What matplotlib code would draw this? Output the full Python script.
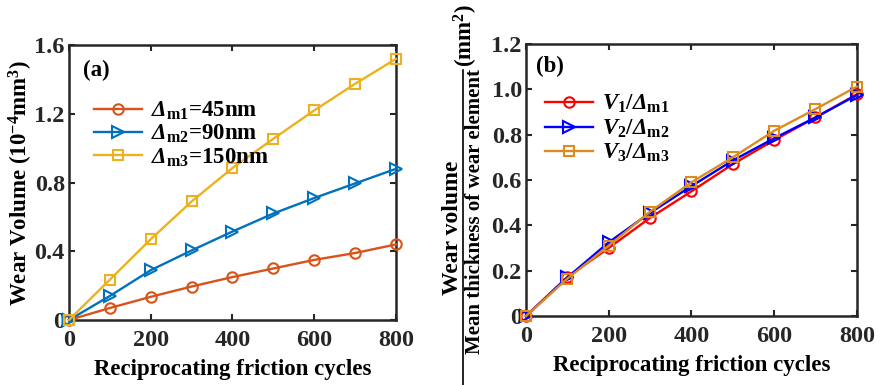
import numpy as np
import matplotlib
matplotlib.use("Agg")
import matplotlib.pyplot as plt
from matplotlib.lines import Line2D

plt.rcParams['font.family'] = ['Liberation Serif', 'DejaVu Serif']
plt.rcParams['font.weight'] = 'bold'
plt.rcParams['mathtext.fontset'] = 'custom'
plt.rcParams['mathtext.rm'] = 'Liberation Serif:bold'
plt.rcParams['mathtext.it'] = 'Liberation Serif:italic:bold'
plt.rcParams['mathtext.bf'] = 'Liberation Serif:bold'
plt.rcParams['mathtext.cal'] = 'Liberation Serif:italic:bold'

cycles = [0, 100, 200, 300, 400, 500, 600, 700, 800]

# panel (a): wear volume, 1e-4 mm^3
vol_m1 = [0, 0.07, 0.135, 0.195, 0.25, 0.30, 0.35, 0.39, 0.44]
vol_m2 = [0, 0.14, 0.29, 0.405, 0.515, 0.62, 0.71, 0.795, 0.88]
vol_m3 = [0, 0.235, 0.47, 0.69, 0.885, 1.055, 1.22, 1.375, 1.52]
labels_a = [r'$\mathcal{Δ}_{\mathbf{m1}}$=45nm',
            r'$\mathcal{Δ}_{\mathbf{m2}}$=90nm',
            r'$\mathcal{Δ}_{\mathbf{m3}}$=150nm']

# panel (b): wear volume / mean thickness
ratio_1 = [0, 0.172, 0.30, 0.433, 0.55, 0.67, 0.776, 0.876, 0.978]
ratio_2 = [0, 0.17, 0.325, 0.455, 0.573, 0.686, 0.784, 0.876, 0.975]
ratio_3 = [0, 0.165, 0.31, 0.46, 0.59, 0.70, 0.817, 0.913, 1.012]
labels_b = [r'$\mathit{V}_{\mathbf{1}}/\mathcal{Δ}_{\mathbf{m1}}$',
            r'$\mathit{V}_{\mathbf{2}}/\mathcal{Δ}_{\mathbf{m2}}$',
            r'$\mathit{V}_{\mathbf{3}}/\mathcal{Δ}_{\mathbf{m3}}$']

fig = plt.figure(figsize=(8.8, 3.85), dpi=100)
ax1 = fig.add_axes([0.0784, 0.1688, 0.3716, 0.714])
ax2 = fig.add_axes([0.5977, 0.1792, 0.376, 0.7065])

def style(ax):
    for s in ax.spines.values():
        s.set_linewidth(1.8)
        s.set_color('#262626')
    ax.tick_params(direction='in', length=4, width=1.5, top=True, right=True,
                   labelsize=17.5, colors='#262626')
    ax.tick_params(axis='x', pad=7)
    ax.tick_params(axis='y', pad=3)
    for t in ax.get_xticklabels() + ax.get_yticklabels():
        t.set_fontweight('bold')
        t.set_color('#262626')

cols_a = ['#D95319', '#0072BD', '#EDB120']
mk = ['o', '>', 's']
ms = [7.5, 8, 6.5]
for y, c, m, s, lab in zip([vol_m1, vol_m2, vol_m3], cols_a, mk, ms, labels_a):
    ax1.plot(cycles, y, color=c, lw=1.7, marker=m, ms=s, mfc='none', mew=1.5,
             label=lab, clip_on=False, zorder=3)
ax1.set_xlim(0, 800)
ax1.set_ylim(0, 1.6)
ax1.set_xticks([0, 200, 400, 600, 800])
ax1.set_yticks([0, 0.4, 0.8, 1.2, 1.6])
ax1.set_yticklabels(['0', '0.4', '0.8', '1.2', '1.6'])
style(ax1)
ax1.set_xlabel('Reciprocating friction cycles', fontsize=16.5, fontweight='bold', labelpad=6)
ax1.set_ylabel(r'Wear Volume (10$^{\mathbf{-4}}$mm$^{\mathbf{3}}$)', fontsize=16.5,
               fontweight='bold', labelpad=-0.5)
ax1.text(0.043, 0.909, '(a)', transform=ax1.transAxes, fontsize=16.5, fontweight='bold',
         va='center')
ax1.legend(loc='upper left', bbox_to_anchor=(0.076, 0.802), frameon=False, fontsize=16.5,
           handlelength=2.1, handletextpad=0.4, labelspacing=0.05, borderaxespad=0,
           borderpad=0)

cols_b = ['#FF0000', '#0000FF', '#DC8C1E']
for y, c, m, s, lab in zip([ratio_1, ratio_2, ratio_3], cols_b, mk, ms, labels_b):
    ax2.plot(cycles, y, color=c, lw=1.7, marker=m, ms=s, mfc='none', mew=1.5,
             label=lab, clip_on=False, zorder=3)
ax2.set_xlim(0, 800)
ax2.set_ylim(0, 1.2)
ax2.set_xticks([0, 200, 400, 600, 800])
ax2.set_yticks([0, 0.2, 0.4, 0.6, 0.8, 1.0, 1.2])
ax2.set_yticklabels(['0', '0.2', '0.4', '0.6', '0.8', '1.0', '1.2'])
style(ax2)
ax2.set_xlabel('Reciprocating friction cycles', fontsize=16.5, fontweight='bold', labelpad=6)
ax2.text(0.03, 0.919, '(b)', transform=ax2.transAxes, fontsize=16.5, fontweight='bold',
         va='center')
ax2.legend(loc='upper left', bbox_to_anchor=(0.057, 0.82), frameon=False, fontsize=16.5,
           handlelength=2.1, handletextpad=0.4, labelspacing=0.1, borderaxespad=0,
           borderpad=0)

# fraction-style y label for panel (b)
fig.text(452 / 880, 1 - 228 / 385, 'Wear volume', rotation=90, ha='center', va='center',
         fontsize=17, fontweight='bold')
fig.text(475 / 880, 1 - 212 / 385, 'Mean thickness of wear element', rotation=90,
         ha='center', va='center', fontsize=15, fontweight='bold')
fig.add_artist(Line2D([463 / 880, 463 / 880], [0, 1 - 70 / 385],
                      transform=fig.transFigure, color='black', lw=1.2))
fig.text(466 / 880, 1 - 36 / 385, r'(mm$^{\mathbf{2}}$)', rotation=90, ha='center',
         va='center', fontsize=16.5, fontweight='bold')

fig.savefig('out.png', dpi=100)
